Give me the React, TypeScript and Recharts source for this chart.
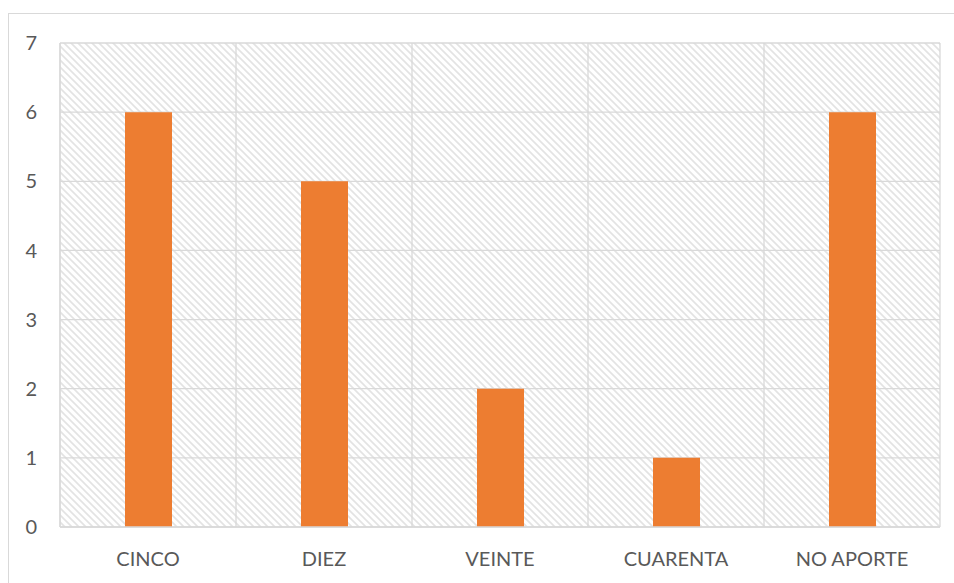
import { BarChart, Bar, XAxis, YAxis, CartesianGrid } from "recharts";

const categories = ["CINCO", "DIEZ", "VEINTE", "CUARENTA", "NO APORTE"];
const counts = [6, 5, 2, 1, 6];
const yTicks = [0, 1, 2, 3, 4, 5, 6, 7];

const data = categories.map((name, i) => ({ name, value: counts[i] }));

const font = "Lato, 'Open Sans', sans-serif";
const gridColor = "#d9d9d9";

export default function App() {
  return (
    <div style={{ position: "absolute", left: 0, top: 0, width: 954, height: 583, background: "#fff", overflow: "hidden" }}>
      <div
        style={{
          position: "absolute", left: 8, top: 13, width: 980, height: 620,
          border: `1px solid ${gridColor}`,
        }}
      />
      <div style={{ position: "absolute", left: 0, top: 0 }}>
        <BarChart
          width={954}
          height={583}
          data={data}
          margin={{ top: 43, right: 14, left: 0, bottom: 0 }}
        >
          <defs>
            <pattern id="hatch" width="7" height="7" patternUnits="userSpaceOnUse">
              <rect width="7" height="7" fill="#ffffff" />
              <path d="M-1,-1 L8,8 M-1,6 L1,8 M6,-1 L8,1" stroke="#e3e3e3" strokeWidth={1.6} />
            </pattern>
          </defs>
          <CartesianGrid
            fill="url(#hatch)"
            fillOpacity={1}
            stroke={gridColor}
            strokeWidth={1.3}
            verticalCoordinatesGenerator={({ offset }: any) =>
              categories.map((_, i) => offset.left + (i * offset.width) / categories.length).concat(offset.left + offset.width)
            }
          />
          <XAxis
            dataKey="name"
            height={56}
            axisLine={{ stroke: gridColor, strokeWidth: 1.3 }}
            tickLine={false}
            tickMargin={19}
            tick={{ fontSize: 20, fill: "#595959", fontFamily: font }}
          />
          <YAxis
            width={60}
            domain={[0, 7]}
            ticks={yTicks}
            axisLine={{ stroke: gridColor, strokeWidth: 1.3 }}
            tickLine={false}
            tickSize={0}
            tickMargin={23}
            tick={{ fontSize: 20, fill: "#595959", fontFamily: font }}
          />
          <Bar dataKey="value" fill="#ED7D31" barSize={47} isAnimationActive={false} />
        </BarChart>
      </div>
    </div>
  );
}
